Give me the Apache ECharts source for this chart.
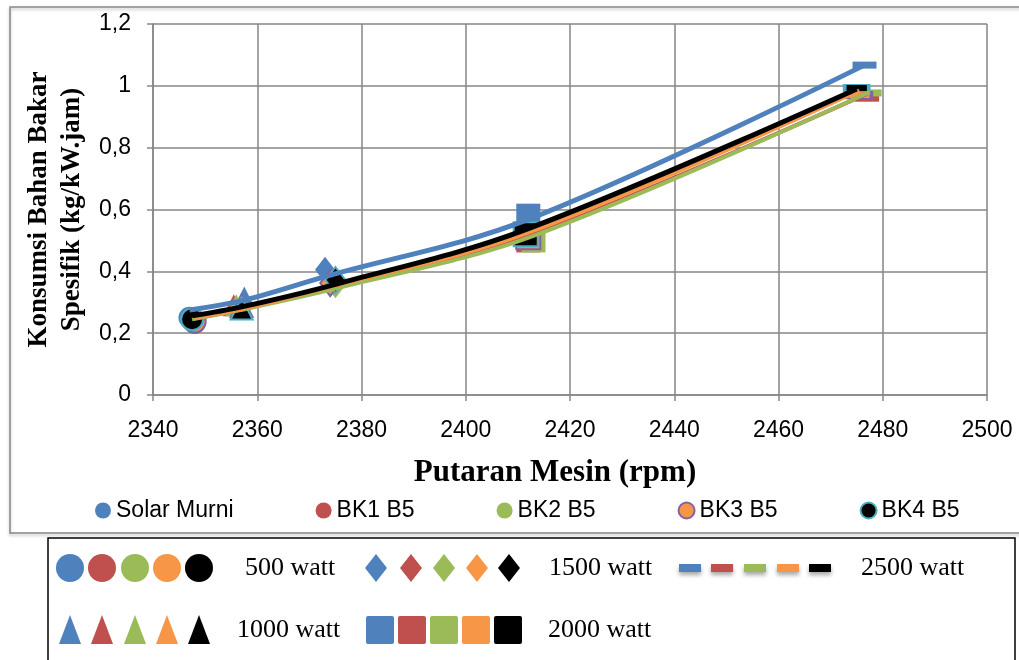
<!DOCTYPE html>
<html>
<head>
<meta charset="utf-8">
<script src="https://cdn.jsdelivr.net/npm/echarts@6/dist/echarts.min.js"></script>
<style>
  html, body { margin: 0; padding: 0; background: #ffffff; }
  #chart { width: 1019px; height: 660px; }
</style>
</head>
<body>
<div id="chart"></div>
<script>
// Series names and load steps
const seriesNames = ['Solar Murni', 'BK1 B5', 'BK2 B5', 'BK3 B5', 'BK4 B5'];
const loadLabels = ['500 watt', '1000 watt', '1500 watt', '2000 watt', '2500 watt'];

// Engine speed (rpm) per load step, for each fuel
const rpmSolar = [2347, 2357.5, 2373, 2412, 2476.5];
const rpmBK1   = [2348, 2355.5, 2374, 2412, 2477];
const rpmBK2   = [2347.5, 2356, 2375, 2413, 2477.5];
const rpmBK3   = [2348, 2357, 2374, 2412, 2475.5];
const rpmBK4   = [2347.5, 2357, 2375, 2411.5, 2475];

// Specific fuel consumption (kg/kW.jam) per load step
const sfcSolar = [0.25, 0.315, 0.405, 0.58, 1.067];
const sfcBK1   = [0.233, 0.29, 0.36, 0.50, 0.96];
const sfcBK2   = [0.24, 0.29, 0.355, 0.50, 0.977];
const sfcBK3   = [0.238, 0.288, 0.362, 0.51, 0.97];
const sfcBK4   = [0.245, 0.28, 0.372, 0.52, 0.993];

// Trend curve levels at the same rpm points
const trendSolar = [0.275, 0.307, 0.383, 0.568, 1.067];
const trendBK1   = [0.247, 0.272, 0.345, 0.515, 0.975];
const trendBK2   = [0.245, 0.272, 0.344, 0.515, 0.98];
const trendBK3   = [0.25, 0.278, 0.35, 0.525, 0.985];
const trendBK4   = [0.256, 0.285, 0.358, 0.535, 0.99];

// Axis ticks
const xMin = 2340, xMax = 2500, xStep = 20;
const yMin = 0, yMax = 1.2, yStep = 0.2;

const rpmSets = [rpmSolar, rpmBK1, rpmBK2, rpmBK3, rpmBK4];
const sfcSets = [sfcSolar, sfcBK1, sfcBK2, sfcBK3, sfcBK4];
const trendSets = [trendSolar, trendBK1, trendBK2, trendBK3, trendBK4];

const fills   = ['#4F81BD', '#C0504D', '#9BBB59', '#F79646', '#000000'];
const borders = ['#4F81BD', '#C0504D', '#9BBB59', '#8064A2', '#4BACC6'];
const lineWidths = [5, 4, 4, 4, 5];

// marker shape per load step: 500, 1000, 1500, 2000, 2500 watt
const loadSymbols = ['circle', 'triangle', 'diamond', 'rect', 'rect'];
const loadSizes = [22, 22, [20, 26], 24, [24, 7]];

const chart = echarts.init(document.getElementById('chart'), null, { renderer: 'canvas' });

const series = [];
seriesNames.forEach((name, i) => {
  series.push({
    name: name,
    type: 'scatter',
    z: 2,
    itemStyle: { color: fills[i], borderColor: borders[i], borderWidth: (i >= 3 ? 2 : 0), opacity: 1 },
    data: rpmSets[i].map((x, k) => ({
      value: [x, sfcSets[i][k]],
      symbol: loadSymbols[k],
      symbolSize: loadSizes[k]
    }))
  });
});
// trend curves drawn above the markers, black and blue last
[1, 2, 3, 4, 0].forEach(i => {
  series.push({
    name: seriesNames[i],
    type: 'line',
    z: 3,
    smooth: 0.35,
    symbol: 'none',
    lineStyle: { color: fills[i], width: lineWidths[i] },
    data: rpmSets[i].map((x, k) => [x, trendSets[i][k]])
  });
});

// lower load legend box
const boxGraphics = [];
const row1 = 568, row2 = 630;
const colX = [70, 102, 135, 167, 199];
const dX = [376, 411, 444, 477, 509];
const dashX = [690, 722, 755, 788, 820];
const sqX = [380, 412, 444, 476, 508];
fills.forEach((c, i) => {
  boxGraphics.push({ type: 'circle', shape: { cx: colX[i], cy: row1, r: 14 }, style: { fill: c } });
  boxGraphics.push({ type: 'polygon', shape: { points: [[dX[i], row1 - 14], [dX[i] + 11, row1], [dX[i], row1 + 14], [dX[i] - 11, row1]] }, style: { fill: c } });
  boxGraphics.push({ type: 'rect', shape: { x: dashX[i] - 11, y: row1 - 4, width: 22, height: 8 }, style: { fill: c, shadowBlur: 4, shadowColor: 'rgba(0,0,0,0.35)', shadowOffsetY: 3 } });
  boxGraphics.push({ type: 'polygon', shape: { points: [[colX[i], row2 - 15], [colX[i] + 11, row2 + 14], [colX[i] - 11, row2 + 14]] }, style: { fill: c } });
  boxGraphics.push({ type: 'rect', shape: { x: sqX[i] - 14, y: row2 - 14, width: 28, height: 28, r: 2 }, style: { fill: c } });
});
const boxText = [
  [loadLabels[0], 245, row1], [loadLabels[2], 549, row1], [loadLabels[4], 861, row1],
  [loadLabels[1], 237, row2], [loadLabels[3], 548, row2]
];
boxText.forEach(t => {
  boxGraphics.push({
    type: 'text', x: t[1], y: t[2],
    style: { text: t[0], fill: '#000', font: '26px "Liberation Serif"', verticalAlign: 'middle', align: 'left' }
  });
});

const option = {
  backgroundColor: '#ffffff',
  animation: false,
  grid: { left: 153, right: 32, top: 24, bottom: 265, containLabel: false },
  xAxis: {
    type: 'value', min: xMin, max: xMax, interval: xStep,
    name: 'Putaran Mesin (rpm)', nameLocation: 'middle', nameGap: 62,
    nameTextStyle: { fontFamily: 'Liberation Serif', fontWeight: 'bold', fontSize: 31, color: '#000', padding: [0, 30, 0, 0] },
    axisLine: { show: true, lineStyle: { color: '#868686', width: 1.5 } },
    axisTick: { show: true, length: 6, lineStyle: { color: '#868686', width: 1.5 } },
    splitLine: { show: true, lineStyle: { color: '#868686', width: 1.5 } },
    axisLabel: { fontFamily: 'Liberation Sans', fontSize: 23, color: '#000', margin: 24, formatter: v => String(v) }
  },
  yAxis: {
    type: 'value', min: yMin, max: yMax, interval: yStep,
    name: 'Konsumsi Bahan Bakar\nSpesifik (kg/kW.jam)', nameLocation: 'middle', nameGap: 61,
    nameTextStyle: { fontFamily: 'Liberation Serif', fontWeight: 'bold', fontSize: 27, color: '#000', lineHeight: 33 },
    axisLine: { show: true, lineStyle: { color: '#868686', width: 1.5 } },
    axisTick: { show: true, length: 6, lineStyle: { color: '#868686', width: 1.5 } },
    splitLine: { show: true, lineStyle: { color: '#868686', width: 1.5 } },
    axisLabel: {
      fontFamily: 'Liberation Sans', fontSize: 23, color: '#000', margin: 22,
      formatter: v => String(Math.round(v * 10) / 10).replace('.', ',')
    }
  },
  legend: {
    left: 90, top: 494, itemGap: 82, icon: 'circle', itemWidth: 16, itemHeight: 17,
    textStyle: { fontFamily: 'Liberation Sans', fontSize: 23, color: '#000' },
    data: seriesNames.map((n, i) => ({ name: n, itemStyle: { color: fills[i], borderColor: borders[i], borderWidth: i >= 3 ? 2 : 0 } }))
  },
  graphic: [
    { type: 'rect', z: -1, shape: { x: 10, y: 7, width: 1030, height: 526 }, style: { fill: 'none', stroke: '#878787', lineWidth: 1.5, shadowBlur: 3, shadowColor: 'rgba(0,0,0,0.25)', shadowOffsetY: 2 } },
    { type: 'rect', shape: { x: 48, y: 538, width: 967, height: 140 }, style: { fill: '#fff', stroke: '#000', lineWidth: 1.5 } },
    { type: 'group', children: boxGraphics }
  ],
  series: series
};

chart.setOption(option);
</script>
</body>
</html>
